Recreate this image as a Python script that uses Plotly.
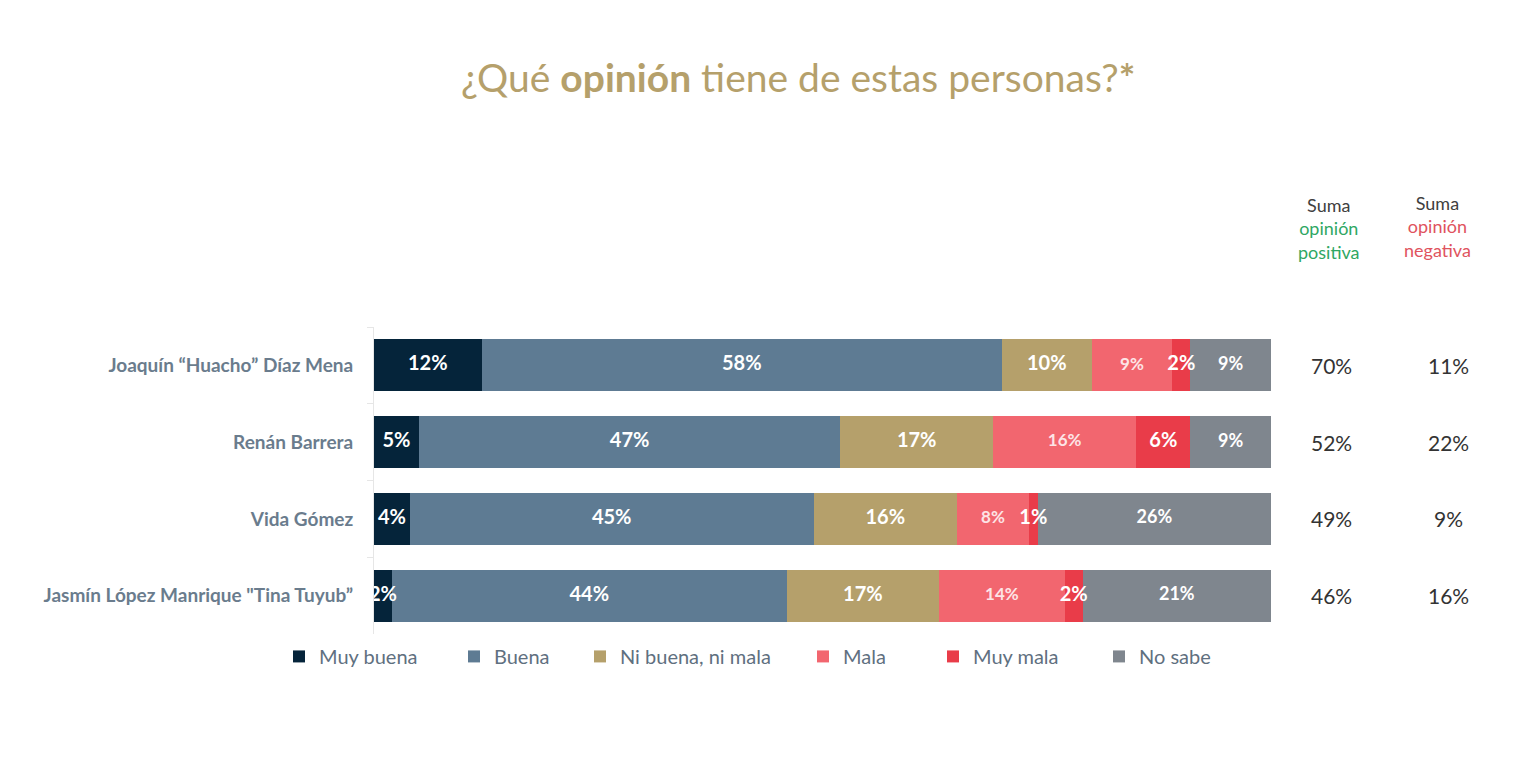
import plotly.graph_objects as go

# ---- data ----
personas = ['Joaquín “Huacho” Díaz Mena', 'Renán Barrera', 'Vida Gómez',
            'Jasmín López Manrique "Tina Tuyub”']
muy_buena = [12, 5, 4, 2]
buena = [58, 47, 45, 44]
ni_buena_ni_mala = [10, 17, 16, 17]
mala = [9, 16, 8, 14]
muy_mala = [2, 6, 1, 2]
no_sabe = [9, 9, 26, 21]
suma_positiva = [70, 52, 49, 46]
suma_negativa = [11, 22, 9, 16]

series_names = ['Muy buena', 'Buena', 'Ni buena, ni mala', 'Mala', 'Muy mala', 'No sabe']
series_values = [muy_buena, buena, ni_buena_ni_mala, mala, muy_mala, no_sabe]
colors = ['#05243a', '#5e7b93', '#b5a06b', '#f2666f', '#e93c49', '#7f868e']
label_colors = ['#ffffff', '#ffffff', '#ffffff', '#fde4e6', '#ffffff', '#ffffff']
label_sizes = [20, 20, 20, 17, 20, 18]
legend_widths = [130, 81, 178, 85, 121, 80]

W, H = 1540, 757
L, R = 374, 1271
TOP, BOT = 326.5, 634.5
plot_w = R - L
plot_h = BOT - TOP
FONT = 'Lato, Open Sans, sans-serif'

def px2x(px):
    return (px - L) / plot_w

def px2y(py):
    return (BOT - py) / plot_h

fig = go.Figure()

for name, vals, col, lw in zip(series_names, series_values, colors, legend_widths):
    fig.add_trace(go.Bar(
        y=personas, x=vals, name=name, orientation='h',
        marker=dict(color=col, line=dict(width=0)),
        hoverinfo='skip', legendwidth=lw
    ))

# labels inside bars
lx, ly, lt, lc, ls = [], [], [], [], []
for i, p in enumerate(personas):
    cum = 0
    for s, vals in enumerate(series_values):
        v = vals[i]
        lx.append(cum + v / 2)
        ly.append(p)
        lt.append(f'<b>{v}%</b>')
        lc.append(label_colors[s])
        ls.append(label_sizes[s])
        cum += v
fig.add_trace(go.Scatter(
    x=lx, y=ly, text=lt, mode='text', showlegend=False, hoverinfo='skip',
    textposition='middle center',
    textfont=dict(color=lc, size=ls, family=FONT),
    cliponaxis=False
))

annotations = []
# title
annotations.append(dict(
    xref='paper', yref='paper', x=px2x(798), y=px2y(76),
    text='¿Qué <b>opinión</b> tiene de estas personas?<b>*</b>',
    showarrow=False, xanchor='center', yanchor='middle',
    font=dict(size=39, color='#b5a06b', family=FONT)
))
# column headers
annotations.append(dict(
    xref='paper', yref='paper', x=px2x(1329), y=px2y(228),
    text='<span style="color:#404040">Suma</span><br>opinión<br>positiva',
    showarrow=False, xanchor='center', yanchor='middle', align='center',
    font=dict(size=18, color='#2fa763', family=FONT)
))
annotations.append(dict(
    xref='paper', yref='paper', x=px2x(1437), y=px2y(226),
    text='<span style="color:#404040">Suma</span><br>opinión<br>negativa',
    showarrow=False, xanchor='center', yanchor='middle', align='center',
    font=dict(size=18, color='#e0535e', family=FONT)
))
for p, pos, neg in zip(personas, suma_positiva, suma_negativa):
    annotations.append(dict(
        xref='paper', yref='y', x=px2x(1331), y=p, text=f'{pos}%',
        showarrow=False, xanchor='center', yanchor='middle',
        font=dict(size=21, color='#333333', family=FONT)
    ))
    annotations.append(dict(
        xref='paper', yref='y', x=px2x(1448), y=p, text=f'{neg}%',
        showarrow=False, xanchor='center', yanchor='middle',
        font=dict(size=21, color='#333333', family=FONT)
    ))

fig.update_layout(
    width=W, height=H,
    barmode='stack', bargap=0.325,
    plot_bgcolor='white', paper_bgcolor='white',
    margin=dict(l=L, r=W - R, t=TOP, b=H - BOT, pad=0),
    xaxis=dict(range=[0, 100], visible=False, fixedrange=True),
    yaxis=dict(
        categoryorder='array', categoryarray=personas,
        range=[3.5, -0.5],
        showline=True, linecolor='#e6e6e6', linewidth=1,
        ticks='outside', tickson='boundaries', ticklen=6, tickcolor='#e6e6e6',
        showgrid=False, zeroline=False,
        ticklabelstandoff=16,
        tickfont=dict(size=19, color='#6a7c8d', family=FONT, weight='bold'),
    ),
    legend=dict(
        orientation='h', x=px2x(279), y=px2y(657), xanchor='left', yanchor='middle',
        font=dict(size=20, color='#5f7080', family=FONT),
        itemwidth=30, traceorder='normal', bgcolor='rgba(0,0,0,0)'
    ),
    annotations=annotations,
    showlegend=True,
)

fig.write_html('out.html')
